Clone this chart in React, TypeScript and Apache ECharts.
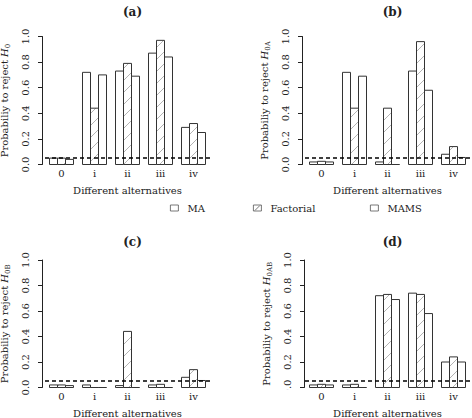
import React, { useEffect, useRef } from "react";
import * as echarts from "echarts";

const categories = ["0", "i", "ii", "iii", "iv"];
const seriesNames = ["MA", "Factorial", "MAMS"];

const h0MA = [0.05, 0.72, 0.73, 0.87, 0.29];
const h0Factorial = [0.05, 0.44, 0.79, 0.97, 0.32];
const h0MAMS = [0.04, 0.7, 0.69, 0.84, 0.25];

const h0aMA = [0.02, 0.72, 0.02, 0.73, 0.08];
const h0aFactorial = [0.025, 0.44, 0.44, 0.96, 0.14];
const h0aMAMS = [0.02, 0.69, 0, 0.58, 0.055];

const h0bMA = [0.02, 0.02, 0.015, 0.02, 0.08];
const h0bFactorial = [0.02, 0, 0.44, 0.025, 0.14];
const h0bMAMS = [0.015, 0, 0, 0, 0.055];

const h0abMA = [0.02, 0.02, 0.72, 0.74, 0.2];
const h0abFactorial = [0.025, 0.025, 0.73, 0.73, 0.24];
const h0abMAMS = [0.02, 0, 0.69, 0.58, 0.2];

const panelTitles = ["(a)", "(b)", "(c)", "(d)"];
const panelSubscripts = ["0", "0A", "0B", "0AB"];
const alphaLevel = 0.05;
const yTicks = { min: 0, max: 1, interval: 0.2 };
const xAxisTitle = "Different alternatives";
const yAxisTitle = "Probabiliy to reject ";

const panelData = [
  [h0MA, h0Factorial, h0MAMS],
  [h0aMA, h0aFactorial, h0aMAMS],
  [h0bMA, h0bFactorial, h0bMAMS],
  [h0abMA, h0abFactorial, h0abMAMS],
];

const FONT = "DejaVu Serif";
const INK = "#222";
const EDGE = "#333";
const HATCH = "#aaa";

const layout = [
  { left: 45, top: 36.5, height: 128, axisOffset: 3 },
  { left: 305, top: 36.5, height: 128, axisOffset: 3 },
  { left: 45, top: 260, height: 127.5, axisOffset: 3 },
  { left: 305, top: 260, height: 127.5, axisOffset: 1 },
];
const gridWidth = 165;
const BAR_W = 8;
const HATCH_STEP = 12;

function makeRenderItem(seriesIdx: number, hatched: boolean) {
  return (params: any, api: any) => {
    const top = api.coord([api.value(0), api.value(1)]);
    const base = api.coord([api.value(0), 0]);
    const x0 = top[0] + (seriesIdx - 1.5) * BAR_W;
    const x1 = x0 + BAR_W;
    const y0 = top[1];
    const y1 = base[1];
    const children: any[] = [
      {
        type: "rect",
        shape: { x: x0, y: y0, width: BAR_W, height: y1 - y0 },
        style: { fill: "#fff", stroke: null },
      },
    ];
    if (hatched && y1 - y0 > 1) {
      const cStart = Math.ceil((x0 + y0) / HATCH_STEP) * HATCH_STEP;
      for (let c = cStart; c <= x1 + y1; c += HATCH_STEP) {
        const lo = Math.max(x0, c - y1);
        const hi = Math.min(x1, c - y0);
        if (hi - lo > 0.3) {
          children.push({
            type: "line",
            shape: { x1: lo, y1: c - lo, x2: hi, y2: c - hi },
            style: { stroke: HATCH, lineWidth: 0.9 },
          });
        }
      }
    }
    children.push({
      type: "rect",
      shape: { x: x0, y: y0, width: BAR_W, height: y1 - y0 },
      style: { fill: "none", stroke: EDGE, lineWidth: 1 },
    });
    return { type: "group", children };
  };
}

export default function App() {
  const ref = useRef<HTMLDivElement>(null);
  useEffect(() => {
    if (!ref.current) return;
    const chart = echarts.init(ref.current, null, { renderer: "svg" });

    const grids = layout.map((l) => ({
      left: l.left,
      top: l.top,
      width: gridWidth,
      height: l.height,
      outerBoundsMode: "none",
    }));

    const xAxes = layout.map((_, i) => ({
      type: "category",
      gridIndex: i,
      data: categories,
      axisLine: { show: false },
      axisTick: { show: false },
      axisLabel: { color: INK, fontFamily: FONT, fontSize: 10, margin: 4 },
      name: xAxisTitle,
      nameLocation: "middle",
      nameGap: 21,
      nameTextStyle: { color: INK, fontFamily: FONT, fontSize: 10 },
    }));

    const yAxes = layout.map((l, i) => ({
      type: "value",
      gridIndex: i,
      min: yTicks.min,
      max: yTicks.max,
      interval: yTicks.interval,
      offset: l.axisOffset,
      axisLine: { show: true, lineStyle: { color: INK, width: 1 } },
      axisTick: { show: true, length: 4, lineStyle: { color: INK } },
      splitLine: { show: false },
      axisLabel: {
        color: INK,
        fontFamily: FONT,
        fontSize: 10,
        rotate: 90,
        margin: 12,
        formatter: (v: number) => v.toFixed(1),
      },
      name: `{t|${yAxisTitle}}{i|H}{s|${panelSubscripts[i]}}`,
      nameLocation: "middle",
      nameGap: 31,
      nameTextStyle: {
        color: INK,
        fontFamily: FONT,
        fontSize: 10,
        rich: {
          t: { fontFamily: FONT, fontSize: 10, color: INK, lineHeight: 14 },
          i: { fontFamily: FONT, fontSize: 10, fontStyle: "italic", color: INK, lineHeight: 14 },
          s: { fontFamily: FONT, fontSize: 7, color: INK, lineHeight: 14, verticalAlign: "bottom", padding: [5, 0, 0, 0] },
        },
      },
    }));

    const series: any[] = [];
    panelData.forEach((group, gi) => {
      group.forEach((vals, si) => {
        series.push({
          type: "custom",
          name: seriesNames[si],
          xAxisIndex: gi,
          yAxisIndex: gi,
          data: vals.map((v, k) => [k, v]),
          encode: { x: 0, y: 1 },
          itemStyle: { color: "#fff", borderColor: EDGE },
          renderItem: makeRenderItem(si, si === 1),
          silent: true,
        });
      });
      series.push({
        type: "line",
        name: "alpha",
        xAxisIndex: gi,
        yAxisIndex: gi,
        data: [],
        silent: true,
        markLine: {
          silent: true,
          symbol: "none",
          label: { show: false },
          lineStyle: { color: "#000", type: [4, 3], width: 1.5 },
          data: [{ yAxis: alphaLevel }],
        },
      });
    });

    const titles = layout.map((l, i) => ({
      text: panelTitles[i],
      left: l.left + gridWidth / 2,
      top: i < 2 ? 1 : 231,
      textAlign: "center",
      textStyle: { fontFamily: FONT, fontSize: 12, fontWeight: "bold", color: INK },
    }));

    const legendBase = {
      top: 203,
      itemWidth: 8,
      itemHeight: 6,
      padding: 0,
      selectedMode: false,
      itemStyle: { color: "#fff", borderColor: "#555", borderWidth: 0.8 },
      textStyle: { fontFamily: FONT, fontSize: 10, color: INK, padding: [0, 0, 0, 4] },
    };

    chart.setOption({
      animation: false,
      backgroundColor: "#fff",
      title: titles,
      legend: [
        { ...legendBase, data: [{ name: "MA", icon: "rect" }], left: 170 },
        {
          ...legendBase,
          data: [{ name: "Factorial", icon: "path://M0,0H8V6H0ZM1.5,5.5L6.5,0.5" }],
          left: 253,
        },
        { ...legendBase, data: [{ name: "MAMS", icon: "rect" }], left: 370 },
      ],
      grid: grids,
      xAxis: xAxes,
      yAxis: yAxes,
      series,
      graphic: [
        {
          type: "rect",
          z: 100,
          shape: { x: 236, y: 389.5, width: 62, height: 30 },
          style: { fill: "#fff" },
        },
      ],
    });
    return () => chart.dispose();
  }, []);
  return (
    <div
      ref={ref}
      style={{ position: "absolute", left: 0, top: 0, width: 472, height: 418 }}
    />
  );
}
